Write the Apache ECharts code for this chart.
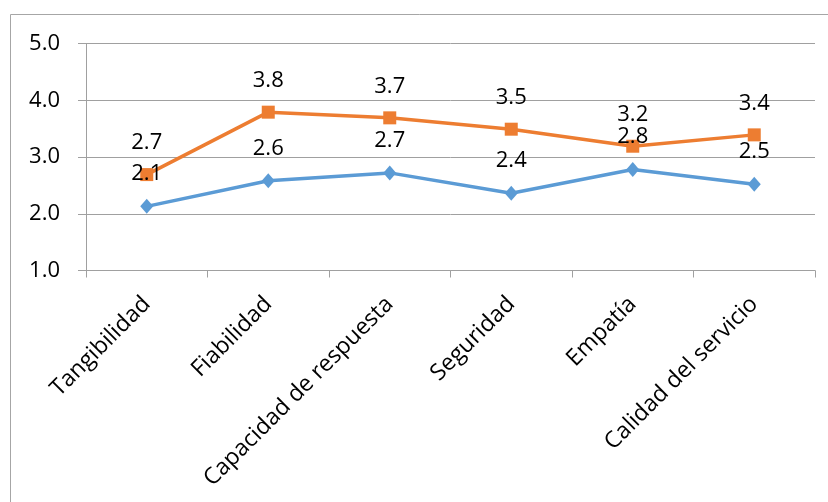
<!DOCTYPE html>
<html>
<head>
<meta charset="utf-8">
<script src="https://cdn.jsdelivr.net/npm/echarts@6/dist/echarts.min.js"></script>
<style>html,body{margin:0;padding:0;background:#fff;}#c{width:828px;height:502px;}</style>
</head>
<body>
<div id="c"></div>
<script>
const categories = ['Tangibilidad', 'Fiabilidad', 'Capacidad de respuesta', 'Seguridad', 'Empatía', 'Calidad del servicio'];
const seriesBlue = [2.13, 2.58, 2.72, 2.36, 2.78, 2.52];
const seriesOrange = [2.69, 3.79, 3.69, 3.49, 3.19, 3.39];
const yTicks = [1, 2, 3, 4, 5];

const FONT = '"Open Sans", "Noto Sans", sans-serif';
const FS = 22;
const chart = echarts.init(document.getElementById('c'), null, {renderer: 'canvas'});
chart.setOption({
  animation: false,
  backgroundColor: '#fff',
  graphic: [{
    type: 'rect', silent: true, z: -1,
    shape: {x: 10.5, y: 14.5, width: 900, height: 600},
    style: {fill: 'none', stroke: '#a6a6a6', lineWidth: 1}
  }],
  grid: {left: 86, right: 13, top: 43.5, bottom: 231.5, containLabel: false},
  xAxis: {
    type: 'category',
    data: categories,
    boundaryGap: true,
    axisLine: {show: true, lineStyle: {color: '#a0a0a0', width: 1}},
    axisTick: {show: true, length: 7, alignWithLabel: false, lineStyle: {color: '#a0a0a0'}},
    axisLabel: {rotate: 45, margin: 30, interval: 0, color: '#000', fontSize: 23, fontFamily: FONT}
  },
  yAxis: {
    type: 'value',
    min: yTicks[0],
    max: yTicks[yTicks.length - 1],
    interval: 1,
    axisLine: {show: true, lineStyle: {color: '#a0a0a0', width: 1}},
    axisTick: {show: true, length: 8, inside: false, lineStyle: {color: '#a0a0a0'}},
    splitLine: {show: true, lineStyle: {color: '#a0a0a0', width: 1}},
    axisLabel: {margin: 26, color: '#000', fontSize: FS, fontFamily: FONT, formatter: v => v.toFixed(1)}
  },
  series: [
    {
      name: 'A', type: 'line', data: seriesBlue,
      symbol: 'diamond', symbolSize: [13, 15],
      lineStyle: {color: '#5B9BD5', width: 3.5},
      itemStyle: {color: '#5B9BD5'},
      label: {show: true, position: 'top', distance: 14, color: '#000', fontSize: FS, fontFamily: FONT, formatter: p => p.value.toFixed(1)},
      z: 3
    },
    {
      name: 'B', type: 'line', data: seriesOrange,
      symbol: 'rect', symbolSize: 13,
      lineStyle: {color: '#ED7D31', width: 3.5},
      itemStyle: {color: '#ED7D31'},
      label: {show: true, position: 'top', distance: 14, color: '#000', fontSize: FS, fontFamily: FONT, formatter: p => p.value.toFixed(1)},
      z: 2
    }
  ]
});
</script>
</body>
</html>
